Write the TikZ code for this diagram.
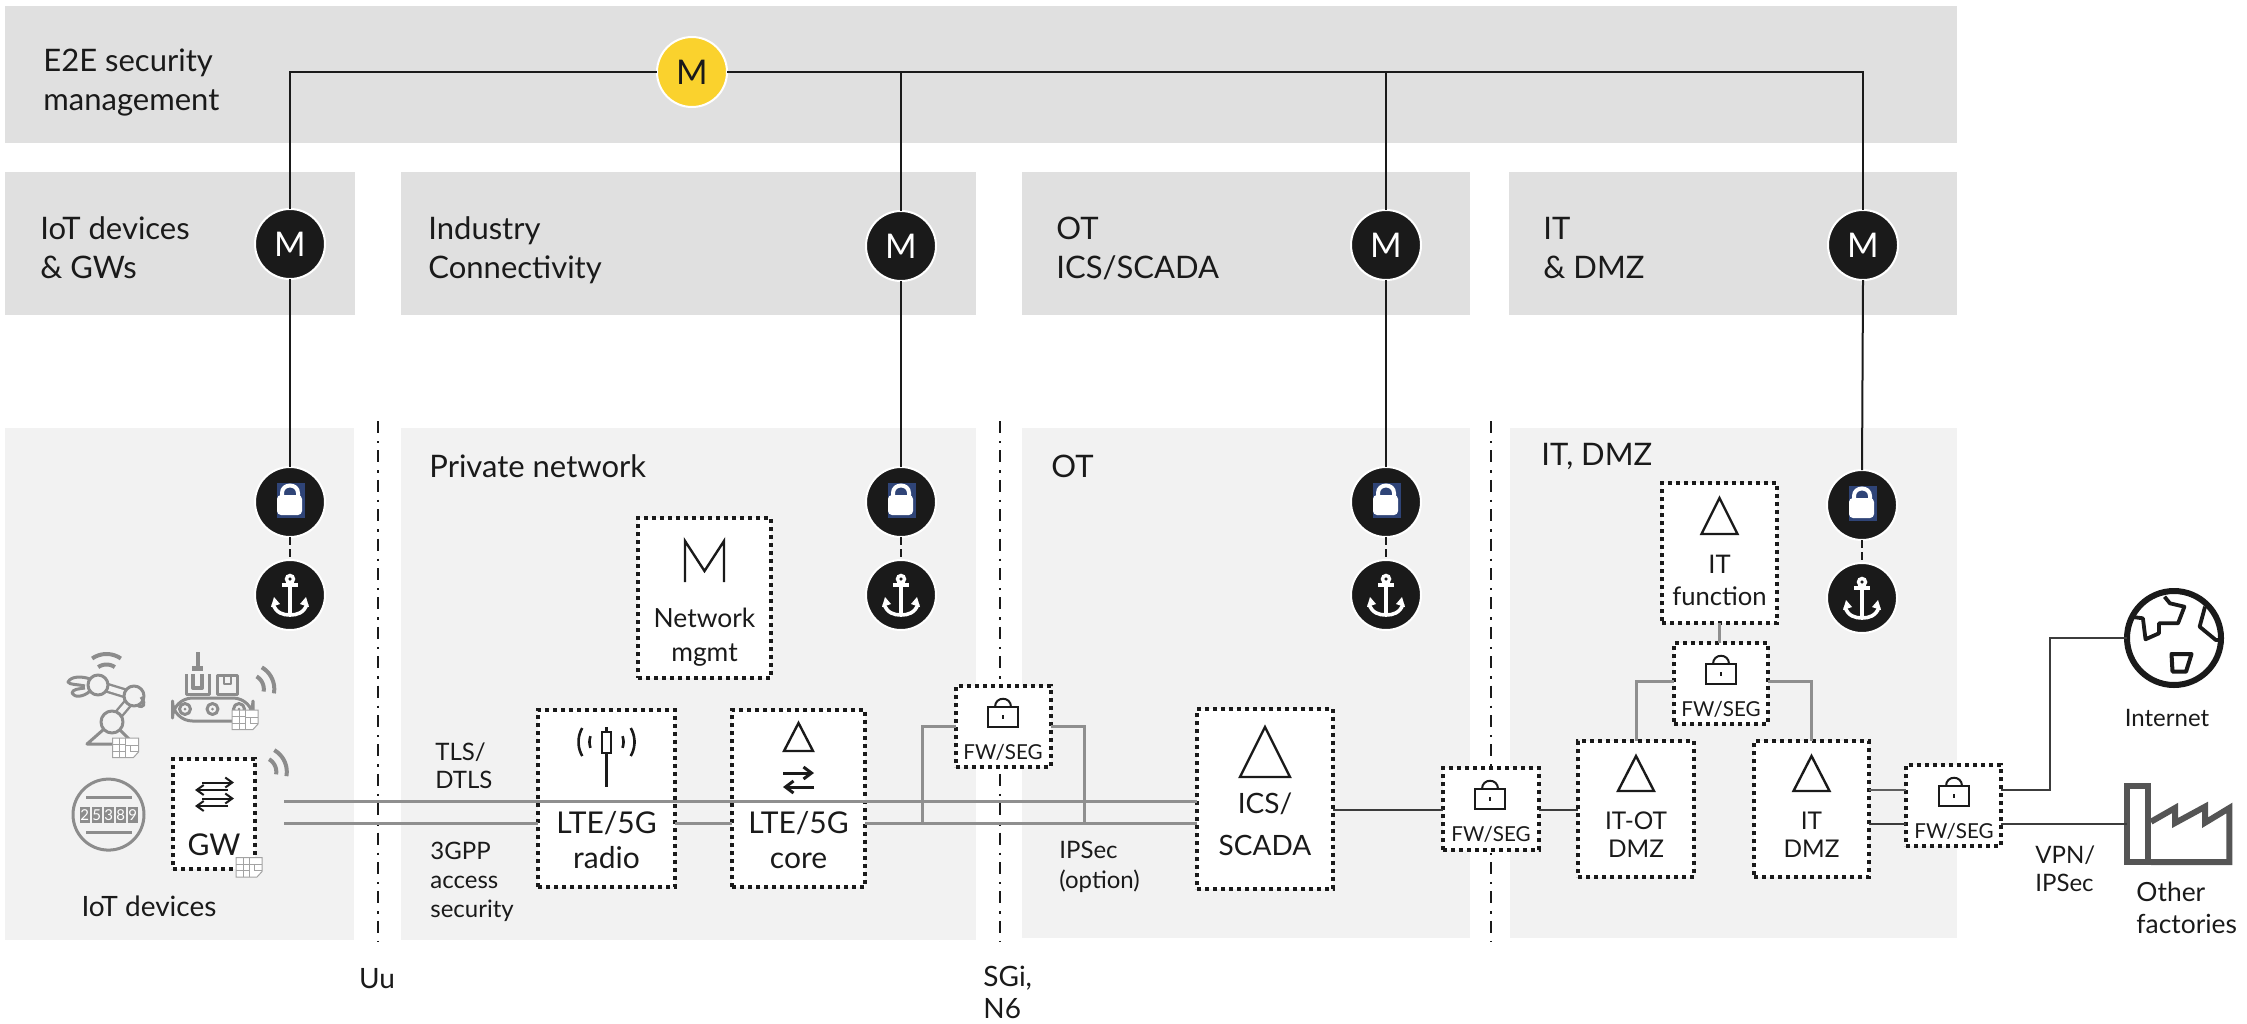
\documentclass[tikz,border=0pt]{standalone}
\usepackage{fontspec}
\setmainfont{Lato}
\usetikzlibrary{arrows.meta}
\definecolor{bandd}{HTML}{E0E0E0}
\definecolor{bandl}{HTML}{F2F2F2}
\definecolor{ink}{HTML}{1A1A1A}
\definecolor{wire}{HTML}{8F8F8F}
\definecolor{icongrey}{HTML}{8C8C8C}
\definecolor{lockblue}{HTML}{2F4477}
\definecolor{mgold}{HTML}{FAD22D}
\definecolor{facgrey}{HTML}{555555}
\tikzset{
  px/.style={line width=#1*0.5pt},
  bx/.style n args={2}{minimum width=#1*0.5pt,minimum height=#2*0.5pt},
  dotbox/.style={draw=ink,fill=white,rectangle,inner sep=0pt,outer sep=0pt,line width=2pt,dash pattern=on 2pt off 2pt},
  badge/.style={circle,fill=ink,draw=white,line width=1pt,minimum size=35pt,inner sep=0pt,outer sep=0pt,text=white,font=\fontsize{17}{17}\selectfont},
  lbl/.style={anchor=west,inner sep=0pt,yshift=-0.33em,text=ink,font=\fontsize{15.5}{15.5}\selectfont,text height=0.72em,text depth=0.2em},
  slbl/.style={lbl,font=\fontsize{12}{12}\selectfont},
  ctr/.style={anchor=center,inner sep=0pt,yshift=-0.3em,text=ink,font=\fontsize{15}{15}\selectfont,text height=0.72em,text depth=0.2em},
  fwt/.style={ctr,font=\fontsize{10.3}{10.3}\selectfont},
  wgrey/.style={draw=wire,line width=1.5pt},
  wdark/.style={draw=ink!85!white,line width=1pt},
  mgline/.style={draw=ink,line width=1pt},
  ddot/.style={draw=ink,line width=1pt,dash pattern=on 6pt off 4pt on 1.2pt off 3.5pt},
  stub/.style={draw=ink,line width=1pt,dash pattern=on 4pt off 2pt},
  blk/.style={draw=ink,line width=1.2pt,line join=miter},
  gic/.style={draw=icongrey,line width=1.5pt,line join=round},
  simlines/.style={draw=icongrey!80!white,line width=0.5pt},
}
\newcommand{\triicon}[4]{\draw[blk] (#1-#4,#3) -- (#1,#2) -- (#1+#4,#3) -- cycle;}
\newcommand{\fwlock}[2]{%
  \draw[draw=ink,line width=1pt] (#1-15,#2) rectangle (#1+15,#2+20);
  \draw[draw=ink,line width=1pt] (#1-8,#2) .. controls (#1-8,#2-11) and (#1+8,#2-11) .. (#1+8,#2);
  \draw[draw=ink,line width=0.8pt] (#1,#2+8) -- (#1,#2+12);}
\newcommand{\padlock}[2]{%
  \fill[lockblue] (#1-13,#2-19) rectangle (#1+15,#2+16);
  \draw[white,line width=2pt] (#1-8,#2-5) -- (#1-8,#2-9) .. controls (#1-8,#2-19) and (#1+8,#2-19) .. (#1+8,#2-9) -- (#1+8,#2-5);
  \fill[white,rounded corners=2pt] (#1-13,#2-7) rectangle (#1+12,#2+13);}
\newcommand{\anchoricon}[2]{%
  \draw[white,line width=1.7pt] (#1,#2-16) circle[radius=3.5];
  \draw[white,line width=1.8pt] (#1,#2-12) -- (#1,#2+20);
  \draw[white,line width=1.8pt] (#1-8,#2-10) -- (#1+8,#2-10);
  \draw[white,line width=1.8pt] (#1-17,#2+9) .. controls (#1-14,#2+18) and (#1-7,#2+20) .. (#1,#2+20) .. controls (#1+7,#2+20) and (#1+14,#2+18) .. (#1+17,#2+9);
  \fill[white] (#1-19,#2+12) -- (#1-16,#2+2) -- (#1-10,#2+9) -- cycle;
  \fill[white] (#1+19,#2+12) -- (#1+16,#2+2) -- (#1+10,#2+9) -- cycle;}
\newcommand{\wifiicon}[4]{%
  \draw[draw=icongrey,line width=2pt] plot[domain=#3:#4,samples=14] ({#1+25*cos(\x)},{#2+25*sin(\x)});
  \draw[draw=icongrey,line width=2pt] plot[domain=#3:#4,samples=14] ({#1+14.5*cos(\x)},{#2+14.5*sin(\x)});}
\newcommand{\simicon}[2]{%
  \filldraw[fill=white,simlines] (#1,#2) -- (#1+26,#2) -- (#1+26,#2+14) -- (#1+21,#2+19.5) -- (#1,#2+19.5) -- cycle;
  \draw[simlines] (#1+7,#2) -- (#1+7,#2+19.5) (#1+13,#2) -- (#1+13,#2+19.5) (#1,#2+6.5) -- (#1+13,#2+6.5) (#1,#2+13) -- (#1+13,#2+13) (#1+13,#2+7) -- (#1+26,#2+7) (#1+18,#2+7) -- (#1+18,#2+13) -- (#1+26,#2+13);}
\begin{document}
\begin{tikzpicture}[x=0.5pt,y=-0.5pt]
\useasboundingbox (0,0) rectangle (2247,1023);
% bands
\fill[bandd] (5,6) rectangle (1957,143);
\fill[bandd] (5,172) rectangle (355,315);
\fill[bandd] (401,172) rectangle (976,315);
\fill[bandd] (1022,172) rectangle (1470,315);
\fill[bandd] (1509,172) rectangle (1957,315);
\fill[bandl] (5,428) rectangle (354,940);
\fill[bandl] (401,428) rectangle (976,940);
\fill[bandl] (1022,428) rectangle (1470,938);
\fill[bandl] (1510,428) rectangle (1957,938);
% interface boundaries
\coordinate (uutop) at (378,421); \coordinate (uubot) at (378,942);
\coordinate (sgitop) at (1000,421); \coordinate (sgibot) at (1000,942);
\coordinate (dmztop) at (1491,421); \coordinate (dmzbot) at (1491,942);
\draw[ddot] (uutop) -- (uubot);
\draw[ddot] (sgitop) -- (sgibot);
\draw[ddot] (dmztop) -- (dmzbot);
% band labels
\node[lbl] (t1a) at (43,60) {E2E security};
\node[lbl] (t1b) at (43,99) {management};
\node[lbl] (t2a) at (40,228) {IoT devices};
\node[lbl] (t2b) at (40,267) {\& GWs};
\node[lbl] (t3a) at (428,228) {Industry};
\node[lbl] (t3b) at (428,267) {Connectivity};
\node[lbl] (t4a) at (1056,228) {OT};
\node[lbl] (t4b) at (1056,267) {ICS/SCADA};
\node[lbl] (t5a) at (1543,228) {IT};
\node[lbl] (t5b) at (1543,267) {\& DMZ};
\node[lbl] (t6) at (429,466) {Private network};
\node[lbl] (t7) at (1051,466) {OT};
\node[lbl] (t8) at (1541,454) {IT, DMZ};
% badges
\node[badge,fill=mgold,text=ink] (e2e) at (692,72) {M};
\node[badge] (m1) at (290,244) {M};
\node[badge] (m2) at (901,246) {M};
\node[badge] (m3) at (1386,245) {M};
\node[badge] (m4) at (1863,245) {M};
\node[badge] (l1) at (290,502) {};
\node[badge] (l2) at (901,502) {};
\node[badge] (l3) at (1386,502) {};
\node[badge] (l4) at (1862,505) {};
\node[badge] (a1) at (290,595) {};
\node[badge] (a2) at (901,595) {};
\node[badge] (a3) at (1386,595) {};
\node[badge] (a4) at (1862,598) {};
\padlock{290}{502}\padlock{901}{502}\padlock{1386}{502}\padlock{1862}{505}
\anchoricon{290}{595}\anchoricon{901}{595}\anchoricon{1386}{595}\anchoricon{1862}{598}
% management tree
\coordinate (j1) at (290,72); \coordinate (j2) at (901,72);
\coordinate (j3) at (1386,72); \coordinate (j4) at (1863,72);
\draw[mgline] (m1.north) -- (j1) -- (e2e.west);
\draw[mgline] (e2e.east) -- (j4) -- (m4.north);
\draw[mgline] (j2) -- (m2.north);
\draw[mgline] (j3) -- (m3.north);
\draw[mgline] (m1.south) -- (l1.north);
\draw[mgline] (m2.south) -- (l2.north);
\draw[mgline] (m3.south) -- (l3.north);
\draw[mgline] (m4.south) -- (l4.north);
\draw[stub] (l1.south) -- (a1.north);
\draw[stub] (l2.south) -- (a2.north);
\draw[stub] (l3.south) -- (a3.north);
\draw[stub] (l4.south) -- (a4.north);
% boxes
\node[dotbox,bx={82}{110}] (gw) at (214,814) {};
\node[dotbox,bx={133}{160}] (mgmt) at (704.5,598) {};
\node[dotbox,bx={137}{177}] (radio) at (606.5,798.5) {};
\node[dotbox,bx={133}{177}] (core) at (798.5,798.5) {};
\node[dotbox,bx={95}{81}] (fw1) at (1003,726.5) {};
\node[dotbox,bx={136}{180}] (ics) at (1265,799) {};
\node[dotbox,bx={96}{82}] (fw2) at (1491,809) {};
\node[dotbox,bx={116}{136}] (itot) at (1636,809) {};
\node[dotbox,bx={115}{136}] (itdmz) at (1811.5,809) {};
\node[dotbox,bx={94}{81}] (fw3) at (1721,683.5) {};
\node[dotbox,bx={115}{140}] (itf) at (1719.5,553) {};
\node[dotbox,bx={95}{81}] (fw4) at (1953.5,805.5) {};
% box texts
\node[ctr] (gwt) at (214,844) {GW};
\node[ctr,font=\fontsize{13.2}{13.2}\selectfont] (mg1) at (704.5,616) {Network};
\node[ctr,font=\fontsize{13.2}{13.2}\selectfont] (mg2) at (704.5,650) {mgmt};
\node[ctr] (ra1) at (606.5,822) {LTE/5G};
\node[ctr] (ra2) at (606.5,857) {radio};
\node[ctr] (co1) at (798.5,822) {LTE/5G};
\node[ctr] (co2) at (798.5,857) {core};
\node[fwt] (ft1) at (1003,748) {FW/SEG};
\node[ctr,font=\fontsize{14}{14}\selectfont] (ic1) at (1265,802) {ICS/};
\node[ctr,font=\fontsize{14}{14}\selectfont] (ic2) at (1265,844) {SCADA};
\node[fwt] (ft2) at (1491,830) {FW/SEG};
\node[ctr,font=\fontsize{12.2}{12.2}\selectfont] (io1) at (1636,818) {IT-OT};
\node[ctr,font=\fontsize{12.2}{12.2}\selectfont] (io2) at (1636,846) {DMZ};
\node[ctr,font=\fontsize{12.2}{12.2}\selectfont] (id1) at (1811.5,818) {IT};
\node[ctr,font=\fontsize{12.2}{12.2}\selectfont] (id2) at (1811.5,846) {DMZ};
\node[fwt] (ft3) at (1721,705) {FW/SEG};
\node[ctr,font=\fontsize{12.8}{12.8}\selectfont] (if1) at (1719.5,562) {IT};
\node[ctr,font=\fontsize{12.8}{12.8}\selectfont] (if2) at (1719.5,594) {function};
\node[fwt] (ft4) at (1954,827) {FW/SEG};
% box icons
\draw[blk,line width=1.2pt] (685,582) -- (685,541) -- (704.5,571) -- (724,541) -- (724,582);
\triicon{798.5}{723}{751}{14.5}
\triicon{1265}{727}{777}{25}
\triicon{1636}{756}{791}{18}
\triicon{1811.5}{756}{791}{18}
\triicon{1719.5}{498}{534}{18}
\fwlock{1003}{707}\fwlock{1490}{789}\fwlock{1721}{664}\fwlock{1954}{786}
% radio tower
\draw[draw=ink,line width=1.5pt] (606.5,753) -- (606.5,787) (606.5,727) -- (606.5,732);
\draw[draw=ink,line width=1.4pt] (602,732) rectangle (611,753);
\draw[draw=ink,line width=1.3pt] plot[domain=150:210,samples=10] ({606.5+28*cos(\x)},{742+28*sin(\x)});
\draw[draw=ink,line width=1.3pt] plot[domain=-30:30,samples=10] ({606.5+28*cos(\x)},{742+28*sin(\x)});
\draw[draw=ink,line width=1.3pt] plot[domain=160:200,samples=8] ({606.5+17*cos(\x)},{742+17*sin(\x)});
\draw[draw=ink,line width=1.3pt] plot[domain=-20:20,samples=8] ({606.5+17*cos(\x)},{742+17*sin(\x)});
% exchange arrows
\draw[draw=ink,line width=1.5pt,-{Straight Barb[length=4pt,width=6pt]}] (783,773) -- (814,773);
\draw[draw=ink,line width=1.5pt,-{Straight Barb[length=4pt,width=6pt]}] (814,787) -- (783,787);
\draw[draw=ink,line width=1pt,-{Straight Barb[length=3.5pt,width=5pt]}] (202,782.5) -- (234,782.5);
\draw[draw=ink,line width=1pt,-{Straight Barb[length=3.5pt,width=5pt]}] (228,790) -- (195,790);
\draw[draw=ink,line width=1pt,-{Straight Barb[length=3.5pt,width=5pt]}] (202,798.5) -- (234,798.5);
\draw[draw=ink,line width=1pt,-{Straight Barb[length=3.5pt,width=5pt]}] (228,806) -- (195,806);
% links
\coordinate (ytop) at (0,801); \coordinate (ylow) at (0,823);
\coordinate (gwtop) at (284,801); \coordinate (gwlow) at (284,823);
\coordinate (bl) at (922.6,823); \coordinate (br) at (1084.5,823);
\coordinate (yfw) at (0,726); \coordinate (ydmz) at (0,809.5);
\coordinate (yup) at (0,790); \coordinate (ydn) at (0,823.5);
\coordinate (y3) at (0,681);
\draw[wgrey] (gwtop) -- (ics.west |- ytop);
\draw[wgrey] (gwlow) -- (radio.west |- ylow);
\draw[wgrey] (radio.east |- ylow) -- (core.west |- ylow);
\draw[wgrey] (core.east |- ylow) -- (ics.west |- ylow);
\draw[wgrey] (fw1.west |- yfw) -| (bl);
\draw[wgrey] (fw1.east |- yfw) -| (br);
\draw[wdark] (ics.east |- ydmz) -- (fw2.west |- ydmz);
\draw[wdark] (fw2.east |- ydmz) -- (itot.west |- ydmz);
\draw[wgrey] (itf.south) -- (itf.south |- fw3.north);
\draw[wgrey] (fw3.west |- y3) -| (itot.north);
\draw[wgrey] (fw3.east |- y3) -| (itdmz.north);
\draw[draw=ink!70!white,line width=1.2pt] (itdmz.east |- yup) -- (fw4.west |- yup);
\draw[wdark] (itdmz.east |- ydn) -- (fw4.west |- ydn);
% globe and factory
\node[circle,draw=ink,fill=white,line width=3pt,minimum size=47pt,inner sep=0pt,outer sep=0pt] (globe) at (2174,638) {};
\draw[draw=ink,line width=1.9pt,line join=round] (2130.4,616.7) -- (2142.9,618.3) -- (2145.5,639.3) -- (2159,633.3) -- (2159,623.3) -- (2178,623.3) -- (2184.4,606.7) -- (2169.9,603.3) -- (2164.5,596.7);
\draw[draw=ink,line width=1.9pt,line join=round] (2205,606.7) -- (2199.6,626.7) -- (2215.8,640) -- (2222.3,640);
\draw[draw=ink,line width=2pt,line join=round] (2171.5,654) -- (2191.5,654) -- (2186,671.7) -- (2172.5,671.7) -- cycle;
\node[rectangle,draw=facgrey,line width=3pt,bx={21}{76},inner sep=0pt,outer sep=0pt] (factory) at (2137.5,824) {};
\draw[draw=facgrey,line width=3pt,line join=miter] (2151,821.7) -- (2175,808) -- (2175,823) -- (2205,806.7) -- (2205,822.7) -- (2229.3,808) -- (2229.3,862) -- (2151,862);
\coordinate (cup) at (2050,638);
\coordinate (yf) at (0,824);
\draw[wdark] (fw4.east |- yup) -| (cup) -- (globe.west);
\draw[wdark] (fw4.east |- yf) -- (factory.west |- yf);
% side labels
\node[slbl] (la1) at (435,749) {TLS/};
\node[slbl] (la2) at (435,777) {DTLS};
\node[slbl] (la3) at (430,848) {3GPP};
\node[slbl] (la4) at (430,877) {access};
\node[slbl] (la5) at (430,906) {security};
\node[slbl] (la6) at (1059,847) {IPSec};
\node[slbl] (la7) at (1059,877) {(option)};
\node[slbl] (la8) at (2035,852) {VPN/};
\node[slbl] (la9) at (2035,880) {IPSec};
\node[ctr,font=\fontsize{14}{14}\selectfont] (la10) at (149,905) {IoT devices};
\node[ctr,font=\fontsize{12}{12}\selectfont] (la11) at (2167,715) {Internet};
\node[lbl,font=\fontsize{13.2}{13.2}\selectfont] (la12) at (2136,890) {Other};
\node[lbl,font=\fontsize{13.2}{13.2}\selectfont] (la13) at (2136,922) {factories};
\node[ctr,font=\fontsize{14}{14}\selectfont] (la14) at (377,977) {Uu};
\node[lbl,font=\fontsize{14}{14}\selectfont] (la15) at (983,975) {SGi,};
\node[lbl,font=\fontsize{14}{14}\selectfont,text depth=0pt] (la16) at (983,1005) {N6};
% IoT device icons
\wifiicon{261.8}{771.8}{-60}{10}
\wifiicon{249.3}{689}{-60}{10}
\wifiicon{106.5}{679}{-125}{-55}
% robot
\draw[icongrey,line width=5pt] (98,685) -- (134,696) -- (112,722);
\draw[bandl,line width=2.6pt] (98,685) -- (134,696) -- (112,722);
\draw[gic] (112,722) -- (87,744) -- (134,744) -- (112,722);
\filldraw[fill=bandl,gic] (98,685) circle[radius=10];
\filldraw[fill=bandl,gic] (134,696) circle[radius=10];
\filldraw[fill=bandl,gic] (112,722) circle[radius=11];
\draw[gic] (141,697) .. controls (147,705) and (143,708) .. (138,706);
\draw[gic] (90,679) .. controls (82,676) and (71,676) .. (68,682) .. controls (70,685) and (76,684) .. (85,686);
\draw[gic] (90,691) .. controls (84,697) and (74,698) .. (72,693) .. controls (73,689) and (78,689) .. (85,688);
% conveyor
\draw[gic,rounded corners=10pt] (172.5,698) rectangle (253,721);
\foreach \cx in {185,212.5,239} {
  \draw[gic] (\cx,709) circle[radius=5.5];
  \fill[icongrey] (\cx,709) circle[radius=1.5];
}
\draw[gic] (186,674) -- (186,694) -- (209,694) -- (209,674);
\draw[gic,line width=2pt] (193,674) -- (193,688) -- (202,688) -- (202,674);
\fill[icongrey] (192,666) rectangle (203,671);
\fill[icongrey] (195.5,652) rectangle (199.5,667);
\draw[gic] (217.5,675) rectangle (237.5,694);
\draw[gic,line width=1pt] (224,675) -- (224,684) -- (231,684) -- (231,675);
% meter
\draw[gic] (108.5,814.6) circle[radius=35.5];
\draw[gic] (86,797) -- (132,797) (86,832) -- (132,832);
\foreach \i/\d in {0/2,1/5,2/3,3/8,4/9} {
  \fill[icongrey] (79.5+\i*12,807) rectangle (90+\i*12,823);
  \node[inner sep=0pt,text=white,font=\fontsize{7.5}{7.5}\selectfont] (dg\i) at (84.8+\i*12,815) {\d};
}
\simicon{112.5}{738}
\simicon{232}{710}
\simicon{236}{857.5}
\end{tikzpicture}
\end{document}
